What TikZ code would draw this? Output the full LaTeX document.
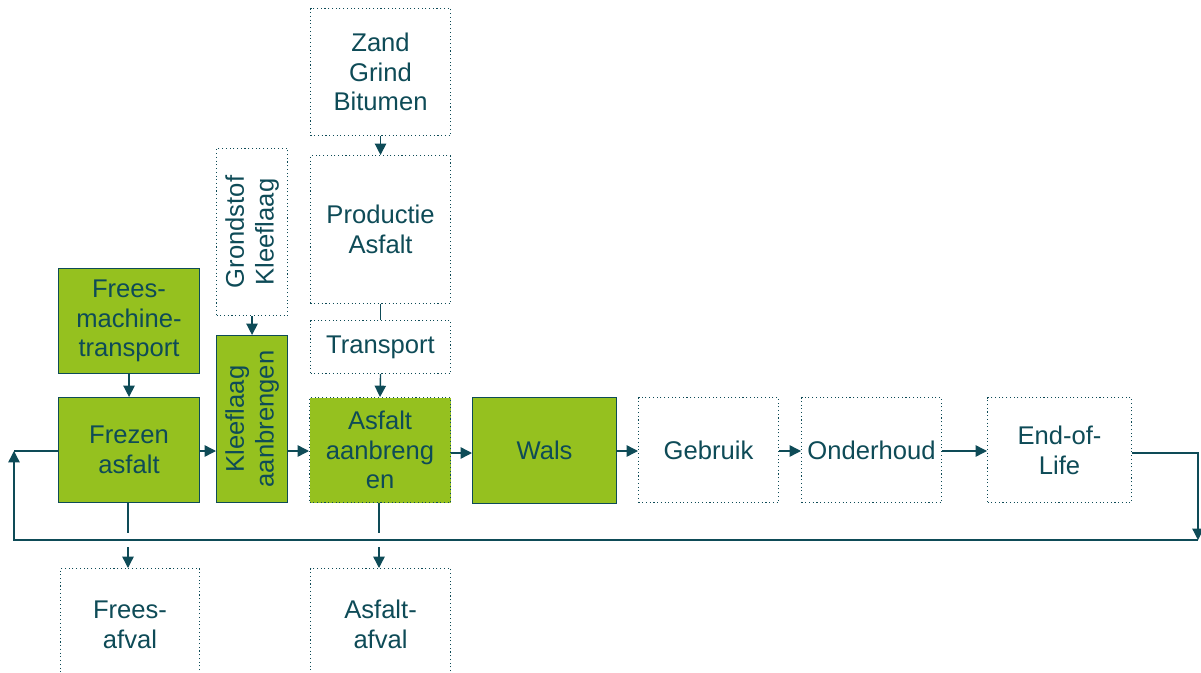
\documentclass[tikz,border=0pt]{standalone}
\usepackage{fontspec}
\setmainfont{Liberation Sans}
\usetikzlibrary{arrows.meta}
\definecolor{ink}{HTML}{0E4B57}
\definecolor{lgreen}{HTML}{95C11F}
\tikzset{
  txt/.style={text=ink, font=\fontsize{19.2}{22.3}\selectfont, align=center},
  box/.style={draw=ink, line width=0.8pt, anchor=north west, inner sep=0pt, txt},
  greenbox/.style={box, fill=lgreen},
  dotbox/.style={box, dotted, fill=white},
  greendot/.style={box, dotted, fill=lgreen},
  conn/.style={draw=ink, line width=1.05pt},
  arr/.style={conn, -{Triangle[length=8.5pt,width=8.5pt]}},
}
\begin{document}
\begin{tikzpicture}[x=0.75pt,y=-0.75pt]
\useasboundingbox (0,0) rectangle (1201,673);
\begin{scope}
\clip (0,0) rectangle (1201,673);
% top column
\node[dotbox, minimum width=140*0.75pt, minimum height=127*0.75pt] (zand) at (310,8) {Zand\\Grind\\Bitumen};
\node[dotbox, minimum width=140*0.75pt, minimum height=148*0.75pt] (prod) at (310,155) {Productie\\Asfalt};
\node[dotbox, minimum width=140*0.75pt, minimum height=53*0.75pt] (trans) at (310,320) {Transport};
% main row
\node[greenbox, minimum width=141*0.75pt, minimum height=105*0.75pt] (frees) at (58,268) {Frees-\\machine-\\transport};
\node[greenbox, minimum width=141*0.75pt, minimum height=105*0.75pt] (frezen) at (58,397) {Frezen\\asfalt};
\node[dotbox, minimum width=71*0.75pt, minimum height=167*0.75pt] (grond) at (216,148) {};
\node[txt, rotate=90] (grondtxt) at (grond.center) {Grondstof\\Kleeflaag};
\node[greenbox, minimum width=71*0.75pt, minimum height=167*0.75pt] (kleef) at (216,335) {};
\node[txt, rotate=90] (kleeftxt) at (kleef.center) {Kleeflaag\\aanbrengen};
\node[greendot, minimum width=141*0.75pt, minimum height=105*0.75pt] (asf) at (309,397) {Asfalt\\aanbreng\\en};
\node[greenbox, minimum width=144*0.75pt, minimum height=106*0.75pt] (wals) at (472,397) {Wals};
\node[dotbox, minimum width=140*0.75pt, minimum height=105*0.75pt] (gebr) at (638,397) {Gebruik};
\node[dotbox, minimum width=140*0.75pt, minimum height=105*0.75pt] (onder) at (801,397) {Onderhoud};
\node[dotbox, minimum width=144*0.75pt, minimum height=105*0.75pt] (eol) at (987,397) {End-of-\\Life};
% bottom
\node[dotbox, minimum width=139*0.75pt, minimum height=112*0.75pt] (fafval) at (60,568) {Frees-\\afval};
\node[dotbox, minimum width=140*0.75pt, minimum height=112*0.75pt] (aafval) at (310,568) {Asfalt-\\afval};
\end{scope}
% connectors
\draw[arr] (zand.south) -- (prod.north);
\draw[conn] (prod.south) -- (trans.north);
\draw[arr] (trans.south) -- (asf.north);
\draw[arr] (grond.south) -- (kleef.north);
\draw[arr] (frees.south) -- (frezen.north);
\draw[arr] (frezen.east |- 0,451) -- (kleef.west |- 0,451);
\draw[arr] (kleef.east |- 0,451) -- (asf.west |- 0,451);
\draw[arr] (asf.east |- 0,453) -- (wals.west |- 0,453);
\draw[arr] (wals.east |- 0,451) -- (gebr.west |- 0,451);
\draw[arr] (gebr.east |- 0,451) -- (onder.west |- 0,451);
\draw[arr] (onder.east |- 0,451) -- (eol.west |- 0,451);
% loop
\coordinate (r1) at (1198,453);
\coordinate (r2) at (1198,540);
\coordinate (l1) at (14,540);
\coordinate (l2) at (14,451);
\draw[arr] (eol.east |- r1) -- (r1) -- (r2);
\draw[arr] (r2) -- (l1) -- (l2);
\draw[conn] (l2) -- (frezen.west |- l2);
% waste
\coordinate (fa1) at (128,533);
\coordinate (fa2) at (128,547);
\coordinate (aa1) at (379,533);
\coordinate (aa2) at (379,547);
\draw[conn] (frezen.south -| fa1) -- (fa1);
\draw[arr] (fa2) -- (fafval.north -| fa2);
\draw[conn] (asf.south -| aa1) -- (aa1);
\draw[arr] (aa2) -- (aafval.north -| aa2);
\end{tikzpicture}
\end{document}
